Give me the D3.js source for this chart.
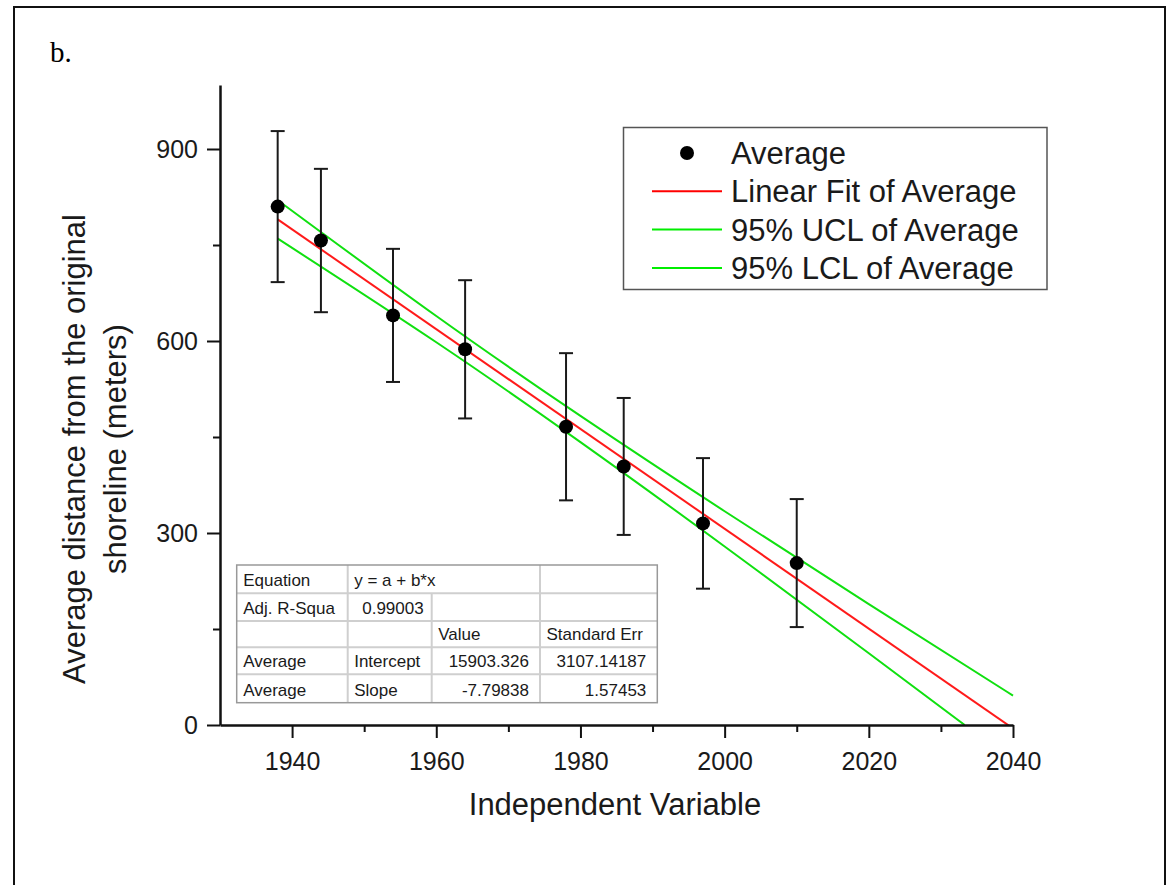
<!DOCTYPE html>
<html>
<head>
<meta charset="utf-8">
<script src="https://cdn.jsdelivr.net/npm/d3@7"></script>
<style>
  body { margin: 0; background: #fff; }
  svg { display: block; font-family: "Liberation Sans", Arial, sans-serif; }
</style>
</head>
<body>
<svg id="chart"></svg>
<script>
// Survey years and mean distance from the original shoreline
const years = [1938, 1944, 1954, 1964, 1978, 1986, 1997, 2010];
const averages = [810, 757, 640, 587, 466, 404, 315, 253];
const errors = [118, 112, 104, 108, 115, 107, 102, 100];

// Linear fit parameters (y = a + b*x)
const fitIntercept = 15903.326;
const fitSlope = -7.79838;
const fitYears = [1938, 2040];

// 95% confidence limits of the fit
const uclYears = [1938, 1960, 1980, 2000, 2020, 2040];
const uclValues = [820, 639, 483, 334, 189, 46];
const lclYears = [1938, 1960, 1980, 2000, 2020, 2033.3];
const lclValues = [760, 598, 442, 279, 112, 0];

// Axis ticks
const xMajorTicks = [1940, 1960, 1980, 2000, 2020, 2040];
const xMinorTicks = [1950, 1970, 1990, 2010, 2030];
const yMajorTicks = [0, 300, 600, 900];
const yMinorTicks = [150, 450, 750];

// Legend entries
const legendLabels = ["Average", "Linear Fit of Average", "95% UCL of Average", "95% LCL of Average"];
const legendColors = ["#000", "#ff0000", "#00ee00", "#00ee00"];

// Fit statistics table
const tableRows = [
  ["Equation", "y = a + b*x", "", ""],
  ["Adj. R-Squa", "0.99003", "", ""],
  ["", "", "Value", "Standard Err"],
  ["Average", "Intercept", "15903.326", "3107.14187"],
  ["Average", "Slope", "-7.79838", "1.57453"],
];

const width = 1171;
const height = 885;
const margin = { top: 85, left: 220, right: 158, bottom: 160 };

const svg = d3.select("#chart").attr("width", width).attr("height", height);

// outer frame (runs off the bottom edge)
svg.append("rect")
  .attr("x", 14).attr("y", 7)
  .attr("width", 1151).attr("height", 920)
  .attr("fill", "none").attr("stroke", "#111").attr("stroke-width", 2);

svg.append("text")
  .attr("x", 50).attr("y", 62)
  .style("font-family", "'Liberation Serif', 'Times New Roman', serif")
  .style("font-size", "29px")
  .text("b.");

const x = d3.scaleLinear().domain([1930, 2040]).range([margin.left, width - margin.right]);
const y = d3.scaleLinear().domain([0, 1000]).range([height - margin.bottom, margin.top]);

svg.append("clipPath").attr("id", "plot-clip")
  .append("rect")
  .attr("x", x(1930)).attr("y", y(1000))
  .attr("width", x(2040) - x(1930) + 2)
  .attr("height", y(0) - y(1000));

const plot = svg.append("g").attr("clip-path", "url(#plot-clip)");

// fit line and confidence limits
const fitLine = d3.line().x((d) => x(d)).y((d) => y(fitIntercept + fitSlope * d));
plot.append("path")
  .datum(fitYears)
  .attr("d", fitLine)
  .attr("fill", "none").attr("stroke", "#ff1a1a").attr("stroke-width", 2);

const limitLine = d3.line()
  .x((d) => x(d[0]))
  .y((d) => y(d[1]))
  .curve(d3.curveNatural);

[[uclYears, uclValues], [lclYears, lclValues]].forEach(([ys, vs]) => {
  plot.append("path")
    .datum(d3.zip(ys, vs))
    .attr("d", limitLine)
    .attr("fill", "none").attr("stroke", "#10e010").attr("stroke-width", 2);
});

// error bars
const bars = svg.append("g").attr("stroke", "#1a1a1a").attr("stroke-width", 2);
years.forEach((yr, i) => {
  const cx = x(yr);
  const top = y(averages[i] + errors[i]);
  const bot = y(averages[i] - errors[i]);
  bars.append("line").attr("x1", cx).attr("x2", cx).attr("y1", top).attr("y2", bot);
  bars.append("line").attr("x1", cx - 7).attr("x2", cx + 7).attr("y1", top).attr("y2", top);
  bars.append("line").attr("x1", cx - 7).attr("x2", cx + 7).attr("y1", bot).attr("y2", bot);
});

svg.selectAll(".dot")
  .data(years)
  .enter()
  .append("circle")
  .attr("class", "dot")
  .attr("cx", (d) => x(d))
  .attr("cy", (d, i) => y(averages[i]))
  .attr("r", 7)
  .attr("fill", "#000");

// axes
const xAxis = svg.append("g")
  .attr("transform", `translate(0,${y(0)})`)
  .call(d3.axisBottom(x).tickValues(xMajorTicks).tickSize(13).tickSizeOuter(0).tickFormat(d3.format("d")));
svg.append("g")
  .attr("transform", `translate(0,${y(0)})`)
  .call(d3.axisBottom(x).tickValues(xMinorTicks).tickSize(7).tickSizeOuter(0).tickFormat(""))
  .select(".domain").remove();

const yAxis = svg.append("g")
  .attr("transform", `translate(${x(1930)},0)`)
  .call(d3.axisLeft(y).tickValues(yMajorTicks).tickSize(13).tickSizeOuter(0));
svg.append("g")
  .attr("transform", `translate(${x(1930)},0)`)
  .call(d3.axisLeft(y).tickValues(yMinorTicks).tickSize(7).tickSizeOuter(0).tickFormat(""))
  .select(".domain").remove();

svg.selectAll(".domain").attr("stroke", "#111").attr("stroke-width", 2.5);
svg.selectAll(".tick line").attr("stroke", "#111").attr("stroke-width", 2);

xAxis.selectAll("text")
  .attr("dy", null).attr("y", 45)
  .attr("fill", "#1a1a1a")
  .style("font-size", "25px");
yAxis.selectAll("text")
  .attr("x", -22)
  .attr("fill", "#1a1a1a")
  .style("font-size", "25px");

// axis titles
svg.append("text")
  .attr("x", 615).attr("y", 815)
  .attr("text-anchor", "middle")
  .attr("fill", "#1a1a1a")
  .style("font-size", "31px")
  .text("Independent Variable");

const yTitle = svg.append("text")
  .attr("transform", "translate(85,449) rotate(-90)")
  .attr("text-anchor", "middle")
  .attr("fill", "#1a1a1a")
  .style("font-size", "31px");
yTitle.append("tspan").attr("x", 0).attr("y", 0).text("Average distance from the original");
yTitle.append("tspan").attr("x", 0).attr("y", 41).text("shoreline (meters)");

// legend
const legend = svg.append("g");
legend.append("rect")
  .attr("x", 623.5).attr("y", 127.5)
  .attr("width", 423.5).attr("height", 162)
  .attr("fill", "#fff").attr("stroke", "#555").attr("stroke-width", 1.5);

legendLabels.forEach((label, i) => {
  const cy = 153 + i * 38.3;
  if (i === 0) {
    legend.append("circle").attr("cx", 687).attr("cy", cy).attr("r", 7).attr("fill", legendColors[i]);
  } else {
    legend.append("line")
      .attr("x1", 652).attr("x2", 722).attr("y1", cy).attr("y2", cy)
      .attr("stroke", legendColors[i]).attr("stroke-width", 2);
  }
  legend.append("text")
    .attr("x", 731).attr("y", cy).attr("dy", "0.36em")
    .attr("fill", "#1a1a1a")
    .style("font-size", "31px")
    .text(label);
});

// statistics table
const colX = [236.7, 347.7, 431.7, 540, 657.3];
const rowY = [565, 593.3, 621, 647.3, 674.3, 702.7];
const table = svg.append("g");
table.append("rect")
  .attr("x", colX[0]).attr("y", rowY[0])
  .attr("width", colX[4] - colX[0]).attr("height", rowY[5] - rowY[0])
  .attr("fill", "#fff");

for (let r = 1; r < 5; r++) {
  table.append("line")
    .attr("x1", colX[0]).attr("x2", colX[4]).attr("y1", rowY[r]).attr("y2", rowY[r])
    .attr("stroke", "#cfcfcf").attr("stroke-width", 2);
}
[1, 2, 3].forEach((c) => {
  table.append("line")
    .attr("x1", colX[c]).attr("x2", colX[c])
    .attr("y1", c === 2 ? rowY[1] : rowY[0]).attr("y2", rowY[5])
    .attr("stroke", "#cfcfcf").attr("stroke-width", 2);
});
table.append("rect")
  .attr("x", colX[0]).attr("y", rowY[0])
  .attr("width", colX[4] - colX[0]).attr("height", rowY[5] - rowY[0])
  .attr("fill", "none").attr("stroke", "#999").attr("stroke-width", 1.5);

const isNumber = (s) => /^-?[0-9.]+$/.test(s);
tableRows.forEach((row, r) => {
  row.forEach((cell, c) => {
    if (!cell) return;
    const right = isNumber(cell);
    const padR = c === 1 ? 8 : 11;
    table.append("text")
      .attr("x", right ? colX[c + 1] - padR : colX[c] + 6.5)
      .attr("y", rowY[r + 1] - 7)
      .attr("text-anchor", right ? "end" : "start")
      .attr("fill", "#1a1a1a")
      .style("font-size", "17px")
      .text(cell);
  });
});
</script>
</body>
</html>
